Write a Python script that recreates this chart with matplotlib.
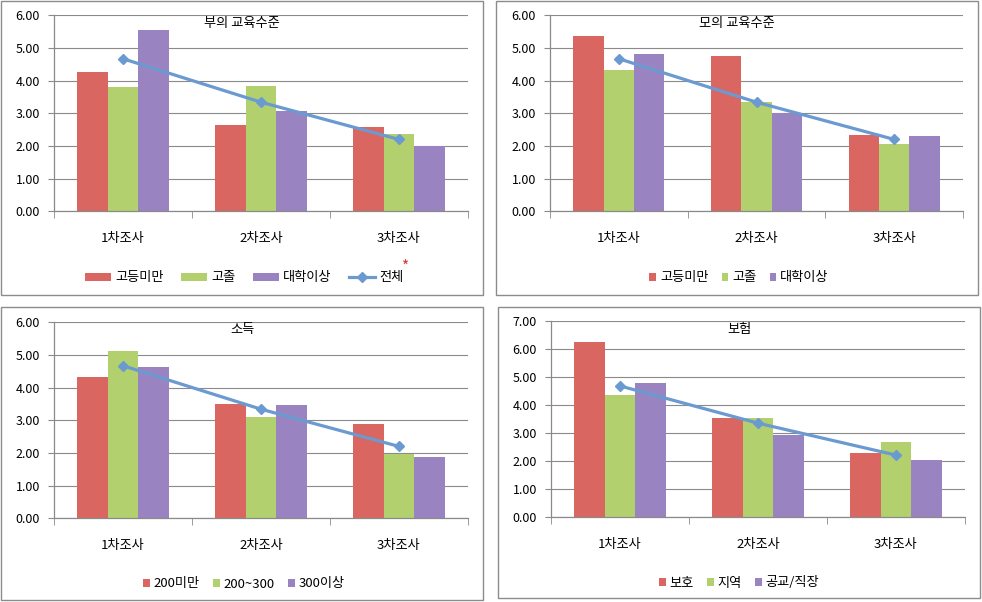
import matplotlib
matplotlib.use("Agg")
import matplotlib.pyplot as plt
from matplotlib.patches import Rectangle
import numpy as np

plt.rcParams['font.family'] = ['Noto Sans CJK KR', 'DejaVu Sans']

categories = ['1차조사', '2차조사', '3차조사']
overall = [4.67, 3.34, 2.20]

titles = ['부의 교육수준', '모의 교육수준', '소득', '보험']
legend_labels = [
    ['고등미만', '고졸', '대학이상'],
    ['고등미만', '고졸', '대학이상'],
    ['200미만', '200~300', '300이상'],
    ['보호', '지역', '공교/직장'],
]
father_edu = [[4.27, 2.64, 2.58], [3.80, 3.83, 2.36], [5.54, 3.08, 2.01]]
mother_edu = [[5.37, 4.76, 2.33], [4.33, 3.34, 2.06], [4.82, 3.00, 2.31]]
income = [[4.32, 3.49, 2.89], [5.12, 3.11, 1.98], [4.63, 3.46, 1.88]]
insurance = [[6.24, 3.52, 2.29], [4.33, 3.52, 2.67], [4.77, 2.92, 2.02]]
series_sets = [father_edu, mother_edu, income, insurance]
ymaxes = [6, 6, 6, 7]

colors = ['#DA6662', '#B2D16E', '#9A83C1']
line_color = '#6A9AD0'
grid_color = '#8A8A8A'

W, H = 982, 602
fig = plt.figure(figsize=(W / 100, H / 100), dpi=100)

def fx(px):
    return px / W

def fy(py):
    return 1 - py / H

# panel boxes (left, top, right, bottom) in px
boxes = [(1, 1, 483, 295), (496, 1, 978, 295), (1, 307, 483, 600), (498, 307, 980, 598)]
# axes (left, top, right, bottom) in px
axes_px = [(54, 15.3, 468, 211.3), (550, 15.3, 963, 211.3),
           (54, 322.3, 468, 518.3), (551, 320.7, 965, 516.7)]
title_y = [24, 24, 330, 329]
legend_y = [278, 278, 584, 583]

for i in range(4):
    bl, bt, br, bb = boxes[i]
    fig.patches.append(Rectangle((fx(bl), fy(bb)), fx(br - bl), (bb - bt) / H,
                                 transform=fig.transFigure, fill=False,
                                 edgecolor='#8C8C8C', lw=1.0))
    l, t, r, b = axes_px[i]
    ax = fig.add_axes([fx(l), fy(b), fx(r - l), (b - t) / H])
    x = np.arange(len(categories))
    w = 0.22
    handles = []
    for j, vals in enumerate(series_sets[i]):
        bars = ax.bar(x + (j - 1) * w, vals, width=w, color=colors[j],
                      label=legend_labels[i][j], zorder=2)
        handles.append(bars)
    ln, = ax.plot(x, overall, color=line_color, lw=2.3, marker='D',
                  markersize=5, zorder=3, label='전체')
    ax.set_xlim(-0.5, 2.5)
    ax.set_ylim(0, ymaxes[i])
    ax.set_yticks(np.arange(0, ymaxes[i] + 1, 1))
    ax.set_yticklabels([f'{v:.2f}' for v in np.arange(0, ymaxes[i] + 1, 1)],
                       fontsize=9)
    ax.set_xticks(x)
    ax.set_xticklabels(categories, fontsize=9.5)
    ax.set_xticks([-0.5, 0.5, 1.5, 2.5], minor=True)
    ax.tick_params(axis='x', which='major', length=0, pad=15)
    ax.tick_params(axis='x', which='minor', length=5, color=grid_color)
    ax.tick_params(axis='y', length=4, color=grid_color, pad=6)
    ax.grid(axis='y', color=grid_color, lw=0.8, zorder=0)
    ax.set_axisbelow(True)
    for s in ['top', 'right']:
        ax.spines[s].set_visible(False)
    for s in ['left', 'bottom']:
        ax.spines[s].set_color(grid_color)
        ax.spines[s].set_linewidth(0.9)
    ax.spines['bottom'].set_zorder(4)

    cx = (bl + br) / 2
    fig.text(fx(cx), fy(title_y[i]), titles[i], ha='center', va='center',
             fontsize=9.5)

    if i == 0:
        ax.legend(handles + [ln], legend_labels[i] + ['전체'], ncol=4,
                  loc='center', bbox_to_anchor=(fx(244), fy(legend_y[i])),
                  bbox_transform=fig.transFigure, frameon=False,
                  fontsize=9.5, handlelength=2.0, handleheight=0.55,
                  columnspacing=1.3, handletextpad=0.3)
        fig.text(fx(406), fy(267), '*', color='#E03030', ha='center',
                 va='center', fontsize=11)
    else:
        cxl = 739 if i in (1, 3) else 244
        ax.legend(handles, legend_labels[i], ncol=3, loc='center',
                  bbox_to_anchor=(fx(cxl), fy(legend_y[i])),
                  bbox_transform=fig.transFigure, frameon=False,
                  fontsize=9.5, handlelength=0.5, handleheight=0.5,
                  columnspacing=1.0, handletextpad=0.3)

fig.savefig('out.png', dpi=100)
